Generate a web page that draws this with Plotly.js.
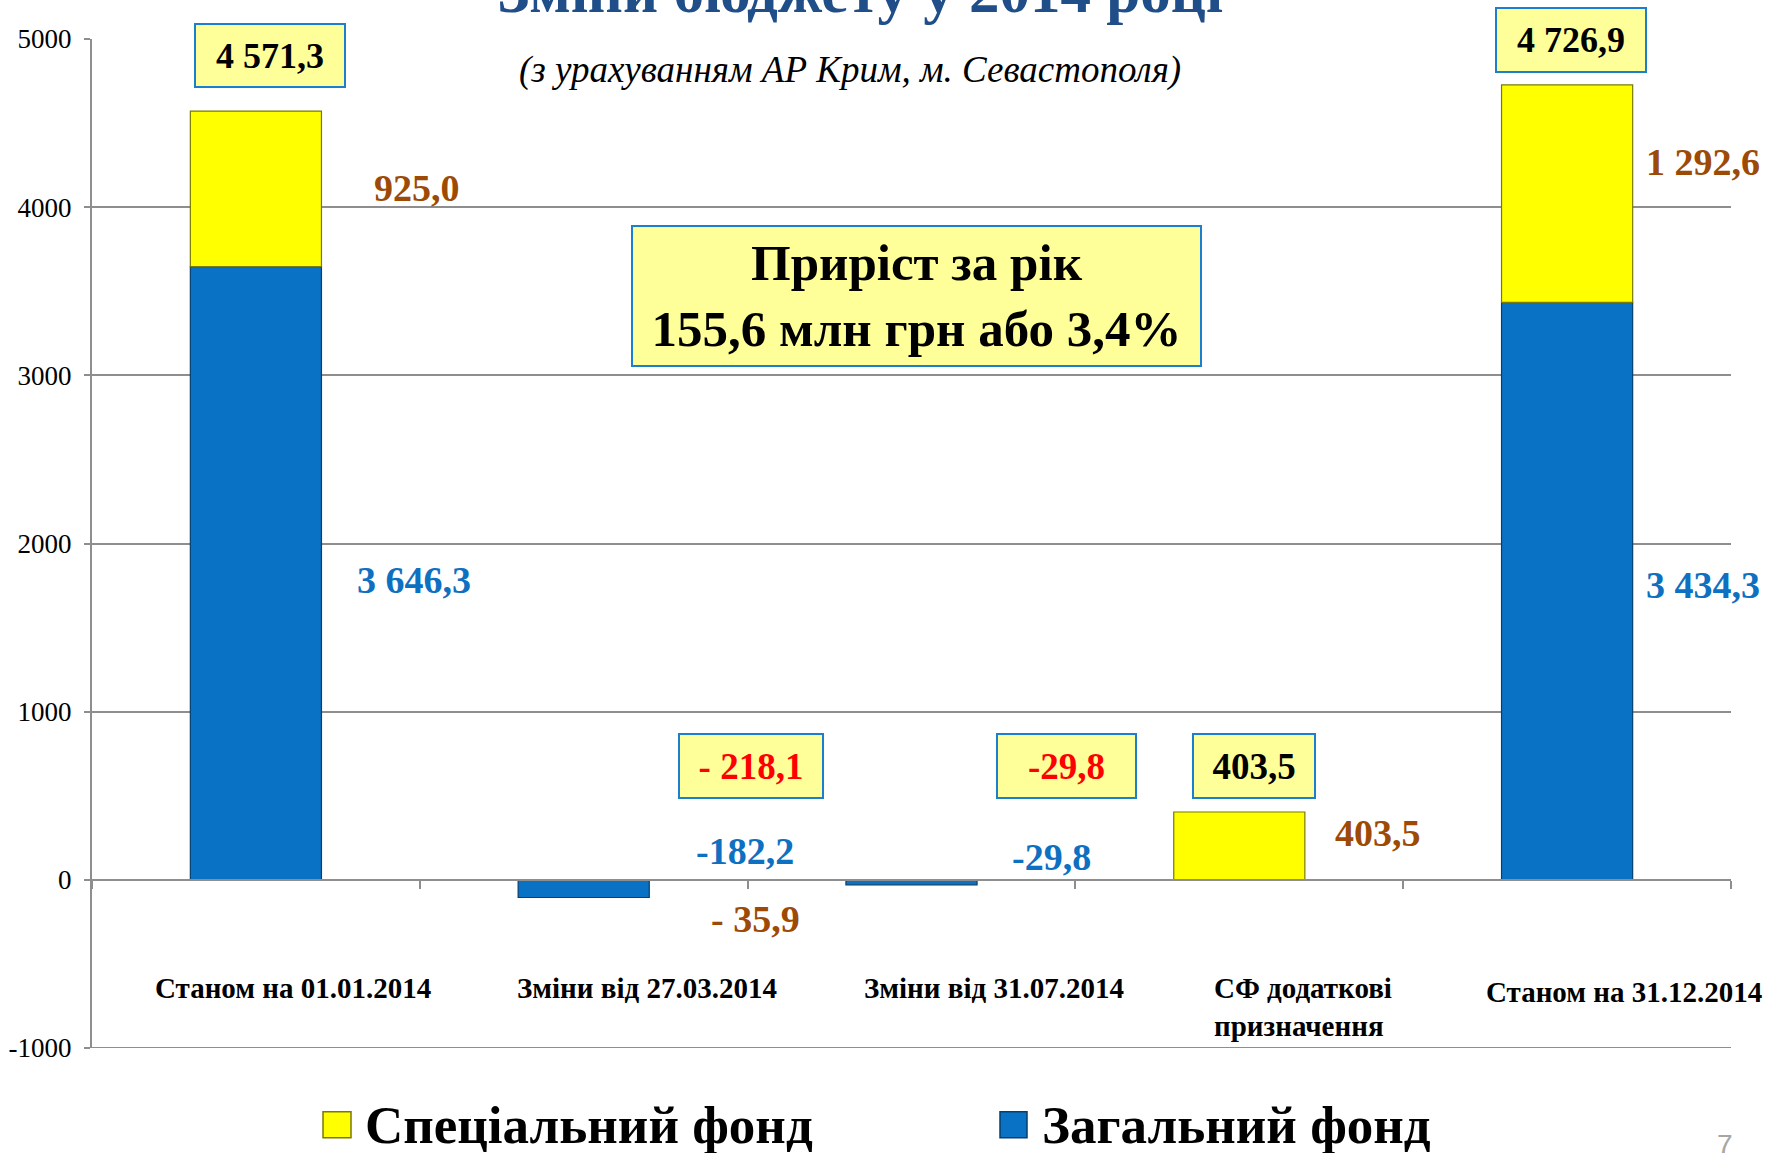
<!DOCTYPE html>
<html>
<head>
<meta charset="utf-8">
<script src="https://cdn.plot.ly/plotly-3.0.1.min.js"></script>
<style>html,body{margin:0;padding:0;background:#fff;}#chart{width:1767px;height:1153px;}</style>
</head>
<body>
<div id="chart"></div>
<script>
// ---- data ----
const categories = ['Станом на 01.01.2014', 'Зміни від 27.03.2014', 'Зміни від 31.07.2014', 'СФ додаткові призначення', 'Станом на 31.12.2014'];
const categoryText = ['Станом на 01.01.2014', 'Зміни від 27.03.2014', 'Зміни від 31.07.2014', 'СФ додаткові<br>призначення', 'Станом на 31.12.2014'];
const generalFund = [3646.3, -105, -29.8, null, 3434.3];   // Загальний фонд (bar heights as drawn)
const specialFund = [925.0, null, null, 403.5, 1292.6];     // Спеціальний фонд
const generalLabels = ['3 646,3', '-182,2', '-29,8', '', '3 434,3'];
const specialLabels = ['925,0', '- 35,9', '', '403,5', '1 292,6'];
const totalLabels = ['4 571,3', '- 218,1', '-29,8', '403,5', '4 726,9'];
const seriesNames = ['Спеціальний фонд', 'Загальний фонд'];
const chartTitle = 'Зміни бюджету у 2014 році';
const chartSubtitle = '(з урахуванням АР Крим, м. Севастополя)';
const growthNote = 'Приріст за рік<br>155,6 млн грн або 3,4%';
const yTicks = [-1000, 0, 1000, 2000, 3000, 4000, 5000];
const pageNumber = '7';

// ---- geometry helpers (pixel -> paper) ----
const W = 1767, H = 1153;
const L = 92, R = 1731, T = 39.3, B = 1048.3;
const fx = px => (px - L) / (R - L);
const fy = py => (B - py) / (B - T);

const SERIF = 'Liberation Serif';
const BLUE = '#0A72C4', YELLOW = '#FFFF00';
const BROWN = '#9C4A06', LBLUE = '#0E70C0', RED = '#FF0000';
const GRID = '#8E8E8E';

const traces = [
  {
    type: 'bar', name: seriesNames[1], x: categories, y: generalFund,
    marker: {color: BLUE, line: {color: '#053F6E', width: 1.2}},
    hoverinfo: 'skip', showlegend: false
  },
  {
    type: 'bar', name: seriesNames[0], x: categories, y: specialFund,
    marker: {color: YELLOW, line: {color: '#7A7A00', width: 1.2}},
    hoverinfo: 'skip', showlegend: false
  }
];

const ann = [];
function txt(text, px, py, size, color, opts) {
  ann.push(Object.assign({
    text: text, xref: 'paper', yref: 'paper', x: fx(px), y: fy(py),
    xanchor: 'center', yanchor: 'middle', showarrow: false,
    font: {family: SERIF, size: size, color: color, weight: 'bold'}
  }, opts || {}));
}
function box(text, x0, x1, y0, y1, size, color) {
  ann.push({
    text: text, xref: 'paper', yref: 'paper', x: fx((x0 + x1) / 2), y: fy((y0 + y1) / 2),
    xanchor: 'center', yanchor: 'middle', showarrow: false,
    width: (x1 - x0) - 4, height: (y1 - y0) - 4,
    bgcolor: '#FFFF99', bordercolor: '#1C7ECF', borderwidth: 2, borderpad: 0,
    font: {family: SERIF, size: size, color: color, weight: 'bold'}
  });
}

// subtitle
txt(chartSubtitle, 850, 70, 37, '#000', {font: {family: SERIF, size: 37, color: '#000', style: 'italic', weight: 'normal'}});

// growth note box
box(growthNote, 631, 1202, 225, 367, 51, '#000');

// total boxes
box(totalLabels[0], 194, 346, 23, 88, 36, '#000');
box(totalLabels[1], 678, 824, 733, 799, 37, RED);
box(totalLabels[2], 996, 1137, 733, 799, 37, RED);
box(totalLabels[3], 1192, 1316, 733, 799, 37, '#000');
box(totalLabels[4], 1495, 1647, 7, 73, 36, '#000');

// special fund labels (brown)
txt(specialLabels[0], 417, 188, 38, BROWN);
txt(specialLabels[1], 755, 919, 38, BROWN);
txt(specialLabels[3], 1378, 833, 38, BROWN);
txt(specialLabels[4], 1703, 162, 38, BROWN);
// general fund labels (blue)
txt(generalLabels[0], 414, 580, 38, LBLUE);
txt(generalLabels[1], 745, 851, 38, LBLUE);
txt(generalLabels[2], 1051, 857, 38, LBLUE);
txt(generalLabels[4], 1703, 585, 38, LBLUE);

// category labels
const catShift = [37, 63, 82, null, 57];
categories.forEach((c, i) => {
  if (i === 3) {
    ann.push({text: categoryText[i], xref: 'x', yref: 'paper', x: c, xshift: 1212 - 1239, xanchor: 'left', align: 'left',
      y: fy(1007), yanchor: 'middle', showarrow: false, font: {family: SERIF, size: 29, color: '#000', weight: 'bold'}});
  } else {
    ann.push({text: categoryText[i], xref: 'x', yref: 'paper', x: c, xshift: catShift[i], xanchor: 'center',
      y: fy(i === 4 ? 992 : 988.5), yanchor: 'middle', showarrow: false, font: {family: SERIF, size: 29, color: '#000', weight: 'bold'}});
  }
});

// legend texts
txt(seriesNames[0], 363, 1125, 53, '#000', {xanchor: 'left'});
txt(seriesNames[1], 1040, 1125, 53, '#000', {xanchor: 'left'});
// page number
txt(pageNumber, 1725, 1145, 28, '#A6A6A6', {font: {family: 'Liberation Sans', size: 28, color: '#A6A6A6'}});

const shapes = [
  // bottom gridline at -1000 (plotly omits the edge gridline)
  {type: 'line', xref: 'paper', yref: 'y', x0: 0, x1: 1, y0: yTicks[0], y1: yTicks[0],
   line: {color: GRID, width: 2}, layer: 'below'},
  {type: 'rect', xref: 'paper', yref: 'paper', x0: fx(323), x1: fx(351), y0: fy(1138), y1: fy(1112),
   fillcolor: YELLOW, line: {color: '#7A7A00', width: 1.5}},
  {type: 'rect', xref: 'paper', yref: 'paper', x0: fx(1000), x1: fx(1027), y0: fy(1138), y1: fy(1112),
   fillcolor: BLUE, line: {color: '#053F6E', width: 1.5}}
];

const layout = {
  width: W, height: H,
  margin: {l: L, r: W - R, t: T, b: H - B, pad: 0},
  paper_bgcolor: '#fff', plot_bgcolor: '#fff',
  barmode: 'relative', bargap: 0.6,
  showlegend: false,
  title: {
    text: chartTitle, xref: 'container', yref: 'container',
    x: 860 / W, xanchor: 'center', y: 1 - 12 / H, yanchor: 'bottom',
    font: {family: SERIF, size: 61, color: '#1F4E89', weight: 'bold'}
  },
  xaxis: {
    type: 'category', categoryorder: 'array', categoryarray: categories,
    range: [-0.5, 4.5], anchor: 'free', position: 1 / 6,
    showline: true, linecolor: GRID, linewidth: 2,
    ticks: 'outside', tickson: 'boundaries', ticklen: 8, tickwidth: 2, tickcolor: GRID,
    showticklabels: false, showgrid: false, zeroline: false, fixedrange: true
  },
  yaxis: {
    range: [-1000, 5000], tickmode: 'array', tickvals: yTicks, ticktext: yTicks.map(String),
    showgrid: true, gridcolor: GRID, gridwidth: 2, zeroline: false,
    showline: true, linecolor: GRID, linewidth: 2,
    ticks: 'outside', ticklen: 6, tickwidth: 2, tickcolor: GRID,
    ticklabelstandoff: 7,
    tickfont: {family: SERIF, size: 27, color: '#000'}, fixedrange: true
  },
  annotations: ann,
  shapes: shapes
};

Plotly.newPlot('chart', traces, layout, {displayModeBar: false, staticPlot: true});
</script>
</body>
</html>
